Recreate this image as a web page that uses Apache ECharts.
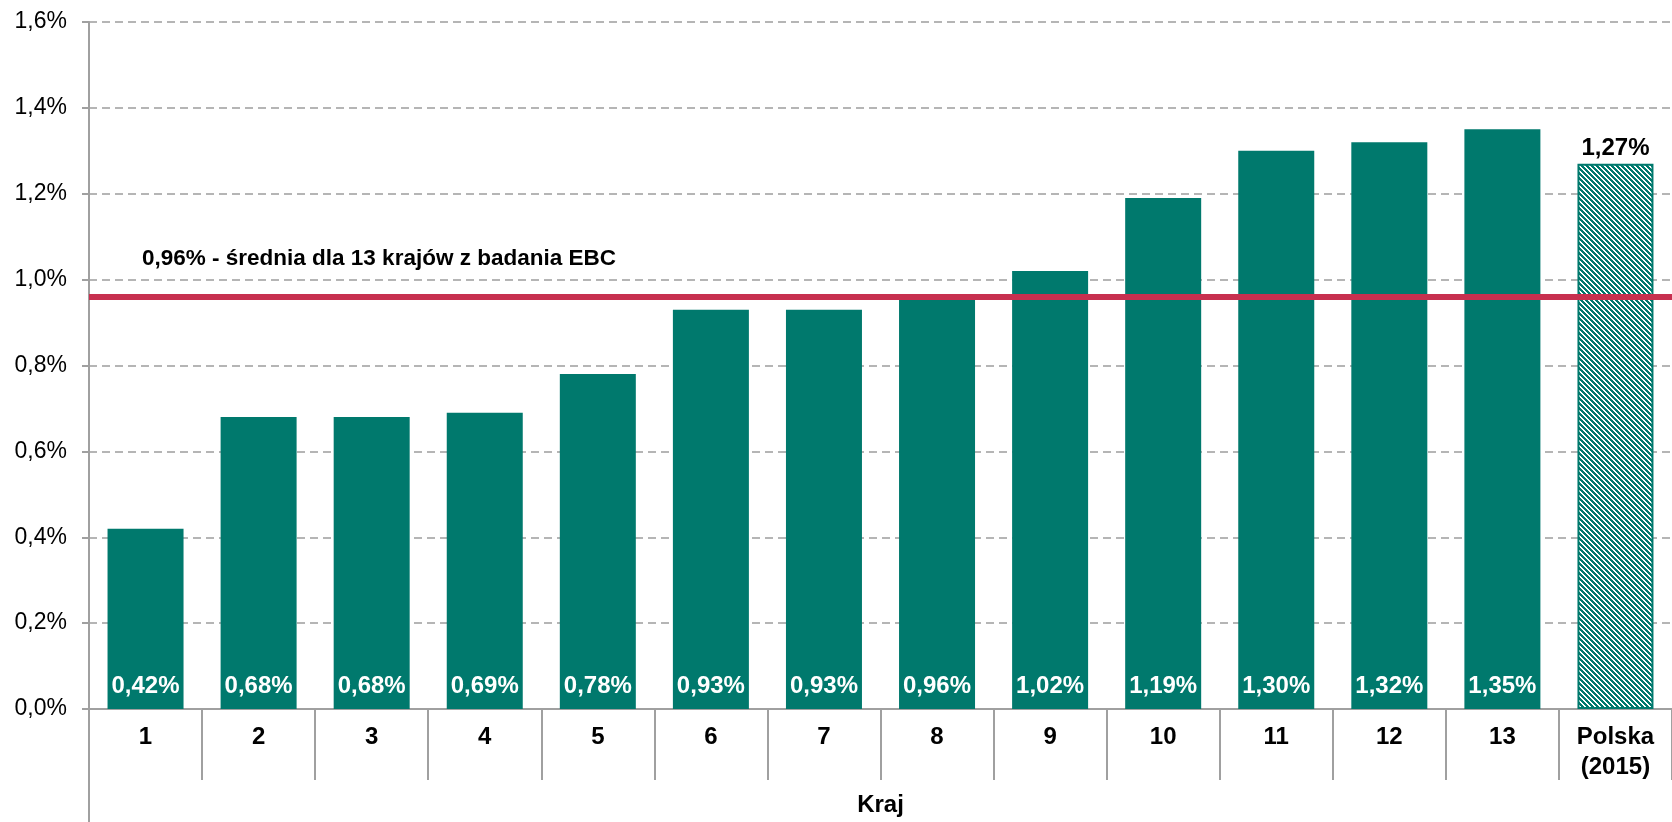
<!DOCTYPE html>
<html>
<head>
<meta charset="utf-8">
<script src="https://cdn.jsdelivr.net/npm/echarts@6/dist/echarts.min.js"></script>
<style>
  html, body { margin: 0; padding: 0; background: #fff; }
  #chart { width: 1672px; height: 822px; }
</style>
</head>
<body>
<div id="chart"></div>
<script>
// Categories (countries) and share values in %
const categories = ['1', '2', '3', '4', '5', '6', '7', '8', '9', '10', '11', '12', '13', 'Polska\n(2015)'];
const values = [0.42, 0.68, 0.68, 0.69, 0.78, 0.93, 0.93, 0.96, 1.02, 1.19, 1.30, 1.32, 1.35, 1.27];
const avgValue = 0.96;
const avgLabel = '0,96% - średnia dla 13 krajów z badania EBC';
const axisTitle = 'Kraj';
const yMin = 0, yMax = 1.6, yStep = 0.2;

const TEAL = '#00796D';
const RED = '#C7304F';
const FONT = '"Liberation Sans", Arial, sans-serif';

const fmt = (v, d) => v.toFixed(d).replace('.', ',') + '%';

// Crisp diagonal hatch tile (stripes running down-right) for the highlighted bar
function hatchTile() {
  const s = 5;
  const c = document.createElement('canvas');
  c.width = s; c.height = s;
  const ctx = c.getContext('2d');
  const img = ctx.createImageData(s, s);
  for (let y = 0; y < s; y++) {
    for (let x = 0; x < s; x++) {
      const on = ((x - y) % s + s) % s < 3;
      const i = (y * s + x) * 4;
      img.data[i] = on ? 0x00 : 0xff;
      img.data[i + 1] = on ? 0x79 : 0xff;
      img.data[i + 2] = on ? 0x6d : 0xff;
      img.data[i + 3] = 255;
    }
  }
  ctx.putImageData(img, 0, 0);
  return c;
}

const last = values.length - 1;
const barData = values.map((v, i) => {
  if (i !== last) return v;
  return {
    value: v,
    itemStyle: {
      color: { image: hatchTile(), repeat: 'repeat' },
      borderColor: TEAL,
      borderWidth: 2
    },
    label: {
      position: 'top',
      distance: 3,
      color: '#000'
    }
  };
});

const chart = echarts.init(document.getElementById('chart'), null, { renderer: 'canvas' });

chart.setOption({
  animation: false,
  backgroundColor: '#fff',
  textStyle: { fontFamily: FONT },
  grid: { left: 89, top: 22, width: 1593, height: 689 },
  xAxis: {
    type: 'category',
    data: categories,
    name: axisTitle,
    nameLocation: 'middle',
    nameGap: 84,
    nameTextStyle: { fontFamily: FONT, fontSize: 24, fontWeight: 'bold', color: '#000' },
    axisLine: { lineStyle: { color: '#a0a0a0', width: 2 } },
    axisTick: { show: true, interval: 0, length: 71, lineStyle: { color: '#a0a0a0', width: 2 } },
    axisLabel: {
      interval: 0, margin: 13, fontFamily: FONT, fontSize: 24, fontWeight: 'bold',
      color: '#000', lineHeight: 30
    }
  },
  yAxis: {
    type: 'value',
    min: yMin, max: yMax, interval: yStep,
    axisLine: { show: true, lineStyle: { color: '#a0a0a0', width: 2 } },
    axisTick: { show: true, length: 7, lineStyle: { color: '#a0a0a0', width: 2 } },
    axisLabel: {
      margin: 22, fontFamily: FONT, fontSize: 23, color: '#000',
      formatter: v => fmt(v, 1)
    },
    splitLine: { lineStyle: { color: '#b5b5b5', width: 2, type: [8, 5] } }
  },
  series: [{
    type: 'bar',
    data: barData,
    barWidth: 76,
    itemStyle: { color: TEAL },
    label: {
      show: true,
      position: 'insideBottom',
      distance: 11,
      fontFamily: FONT,
      fontSize: 24,
      fontWeight: 'bold',
      color: '#fff',
      formatter: p => fmt(p.value, 2)
    },
    markLine: {
      silent: true,
      symbol: ['none', 'none'],
      z: 10,
      lineStyle: { color: RED, width: 6, type: 'solid' },
      label: {
        show: true,
        position: 'insideStartTop',
        distance: [53, 27],
        fontFamily: FONT,
        fontSize: 22.5,
        fontWeight: 'bold',
        color: '#000',
        formatter: avgLabel
      },
      data: [{ yAxis: avgValue }]
    }
  }]
});

// Extend the value axis line below the category band
const base = chart.convertToPixel({ gridIndex: 0 }, [0, yMin]);
const gx = 89;
chart.setOption({
  graphic: [{
    type: 'line',
    shape: { x1: gx, y1: base[1], x2: gx, y2: 822 },
    style: { stroke: '#a0a0a0', lineWidth: 2 },
    silent: true
  }]
});
</script>
</body>
</html>
